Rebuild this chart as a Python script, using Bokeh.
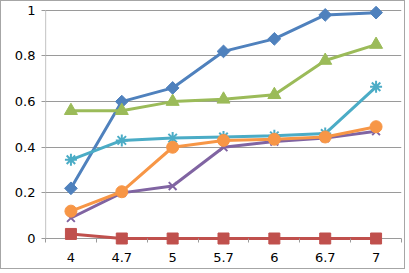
import math
from bokeh.plotting import figure
from bokeh.models import Range1d, FixedTicker, NumeralTickFormatter
from bokeh.embed import file_html
from bokeh.resources import INLINE

categories = ["4", "4.7", "5", "5.7", "6", "6.7", "7"]
s_blue = [0.22, 0.60, 0.66, 0.82, 0.875, 0.98, 0.99]
s_red = [0.02, 0.0, 0.0, 0.0, 0.0, 0.0, 0.0]
s_green = [0.56, 0.56, 0.60, 0.61, 0.63, 0.78, 0.85]
s_purple = [0.09, 0.20, 0.23, 0.40, 0.425, 0.44, 0.47]
s_cyan = [0.345, 0.43, 0.44, 0.445, 0.45, 0.46, 0.665]
s_orange = [0.12, 0.205, 0.40, 0.43, 0.435, 0.445, 0.49]
y_ticks = [0, 0.2, 0.4, 0.6, 0.8, 1.0]

xs = list(range(len(categories)))
y_min, y_max = 0.0, 1.0
pad_lo, pad_hi = 0.035, 0.03

p = figure(width=405, height=269, output_backend="svg", toolbar_location=None,
           x_range=Range1d(-0.5, len(categories) - 0.5),
           y_range=Range1d(y_min - pad_lo, y_max + pad_hi),
           min_border_left=44, min_border_right=5, min_border_top=2, min_border_bottom=24)
p.styles = {"border": "1px solid #a6a6a6"}
p.outline_line_color = None
p.background_fill_color = "white"
p.border_fill_color = "white"

grid_col = "#9a9a9a"
p.xgrid.grid_line_color = None
p.ygrid.grid_line_color = grid_col
p.ygrid.grid_line_width = 1.2
p.ygrid.ticker = FixedTicker(ticks=y_ticks)

# axis lines drawn only over the value span
p.segment(x0=[-0.5], y0=[y_min], x1=[-0.5], y1=[y_max], line_color=grid_col, line_width=1.2)
p.segment(x0=[-0.5], y0=[y_min], x1=[len(categories) - 0.5], y1=[y_min], line_color=grid_col, line_width=1.2)

p.yaxis.ticker = FixedTicker(ticks=y_ticks)
p.yaxis.formatter = NumeralTickFormatter(format="0.[0]")
p.yaxis.axis_line_color = None
p.yaxis.major_tick_line_color = grid_col
p.yaxis.major_tick_out = 4
p.yaxis.major_tick_in = 0
p.yaxis.minor_tick_line_color = None
p.yaxis.major_label_standoff = 6

p.xaxis.ticker = FixedTicker(ticks=xs, minor_ticks=[i - 0.5 for i in range(len(categories) + 1)])
p.xaxis.major_label_overrides = {i: c for i, c in enumerate(categories)}
p.xaxis.axis_line_color = None
p.xaxis.major_tick_line_color = None
p.xaxis.minor_tick_line_color = grid_col
p.xaxis.minor_tick_in = 8
p.xaxis.minor_tick_out = -4
p.xaxis.major_tick_in = 0
p.xaxis.major_tick_out = 0
p.xaxis.major_label_standoff = 6

for ax in (p.xaxis, p.yaxis):
    ax.major_label_text_font = "DejaVu Sans"
    ax.major_label_text_font_size = "13px"
    ax.major_label_text_color = "#000000"

lw = 3
series = [
    (s_blue, "#4F81BD", "diamond", 9),
    (s_red, "#C0504D", "square", 11),
    (s_green, "#9BBB59", "triangle", 13),
    (s_purple, "#8064A2", "x", 11),
    (s_cyan, "#4BACC6", "asterisk", 12),
    (s_orange, "#F79646", "circle", 12),
]
for vals, col, mk, sz in series:
    p.line(xs, vals, line_color=col, line_width=lw)
    if mk in ("x", "asterisk"):
        p.scatter(xs, vals, marker=mk, size=sz, line_color=col, line_width=2)
    elif mk == "diamond":
        p.scatter(xs, vals, marker="square", angle=math.pi / 4, size=sz, fill_color=col, line_color=col)
    else:
        p.scatter(xs, vals, marker=mk, size=sz, fill_color=col, line_color=col)

open("out.html", "w").write(file_html(p, INLINE))
